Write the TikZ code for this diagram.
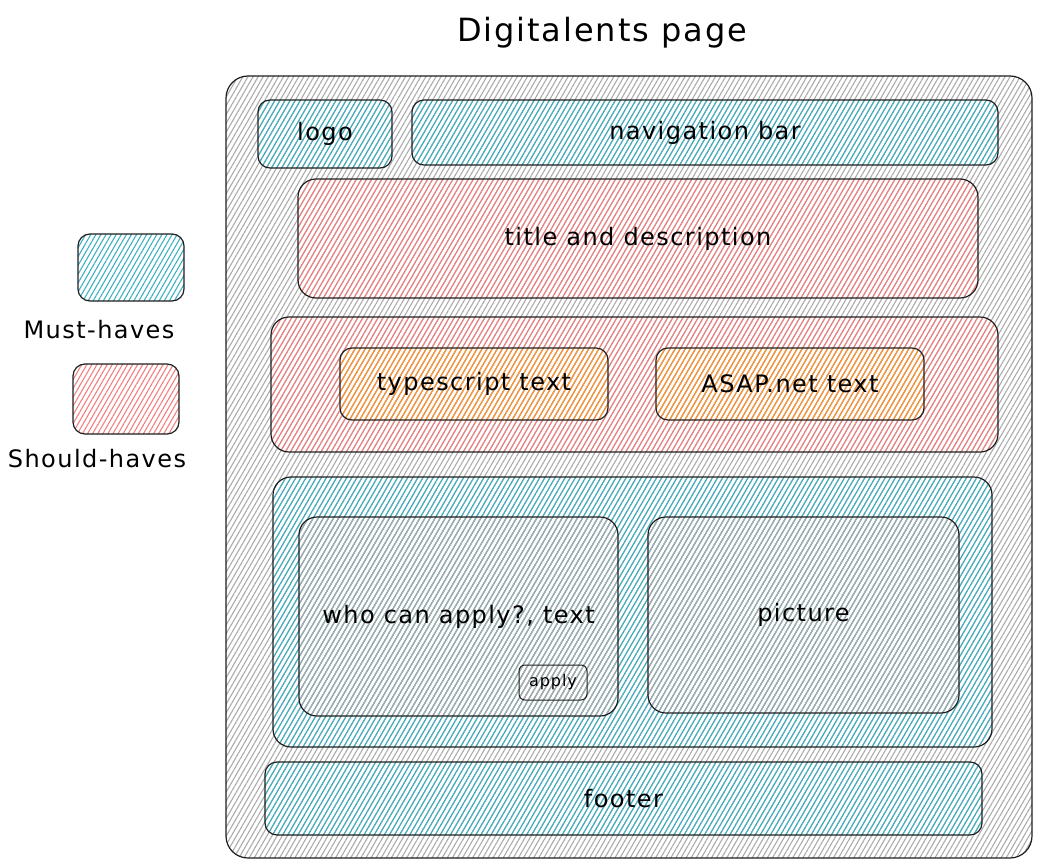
\documentclass[tikz,border=0pt]{standalone}
\usepackage{fontspec}
\setmainfont{DejaVu Sans}[LetterSpace=6]
\usetikzlibrary{patterns.meta}
\definecolor{ink}{HTML}{1E1E1E}
\definecolor{hgray}{HTML}{ABABAB}
\definecolor{hblue}{HTML}{3FAFC2}
\definecolor{hpink}{HTML}{F08080}
\definecolor{horange}{HTML}{F59B30}
\tikzset{
  box/.style={draw=ink, line width=1.2pt, rounded corners=12pt, inner sep=0pt,
    font=\fontsize{24}{28}\selectfont},
  hatch/.style={pattern={Lines[angle=60,distance=4.4pt,line width=1.1pt]}, pattern color=#1},
  lbl/.style={inner sep=0pt, font=\fontsize{24}{28}\selectfont},
}
\begin{document}
\begin{tikzpicture}[x=1pt,y=-1pt]
\useasboundingbox (0,0) rectangle (1042,867);
\node[lbl, font=\fontsize{32}{36}\selectfont] (ttl) at (602,33) {Digitalents page};
\node[box, hatch=hgray, rounded corners=22pt, minimum width=806pt, minimum height=782pt] (outer) at (629,467) {};
\node[box, hatch=hblue, minimum width=134pt, minimum height=68pt] (logo) at (325,134) {logo};
\node[box, hatch=hblue, minimum width=586pt, minimum height=65pt] (nav) at (705,132.5) {navigation bar};
\node[box, hatch=hpink, rounded corners=18pt, minimum width=680pt, minimum height=119pt] (tdesc) at (638,238.5) {title and description};
\node[box, hatch=hpink, rounded corners=18pt, minimum width=727pt, minimum height=135pt] (mid) at (634.5,384.5) {};
\node[box, hatch=horange, minimum width=268pt, minimum height=72pt] (ts) at (474,384) {typescript text};
\node[box, hatch=horange, minimum width=268pt, minimum height=72pt] (asap) at (790,384) {ASAP.net text};
\node[box, hatch=hblue, rounded corners=18pt, minimum width=719pt, minimum height=270pt] (sect) at (632.5,612) {};
\node[box, hatch=hgray, rounded corners=18pt, minimum width=319pt, minimum height=199pt] (who) at (458.5,616.5) {who can apply?, text};
\node[box, hatch=hgray, rounded corners=6pt, line width=1pt, minimum width=68pt, minimum height=35pt, font=\fontsize{16}{18}\selectfont] (apply) at (553,682.5) {apply};
\node[box, hatch=hgray, rounded corners=18pt, minimum width=311pt, minimum height=196pt] (pic) at (803.5,615) {picture};
\node[box, hatch=hblue, minimum width=717pt, minimum height=73pt] (foot) at (623.5,798.5) {footer};
\node[box, hatch=hblue, minimum width=106pt, minimum height=67pt] (legb) at (131,267.5) {};
\node[lbl] (must) at (99,330) {Must-haves};
\node[box, hatch=hpink, minimum width=106pt, minimum height=70pt] (legp) at (126,399) {};
\node[lbl] (should) at (97,459) {Should-haves};
\end{tikzpicture}
\end{document}
